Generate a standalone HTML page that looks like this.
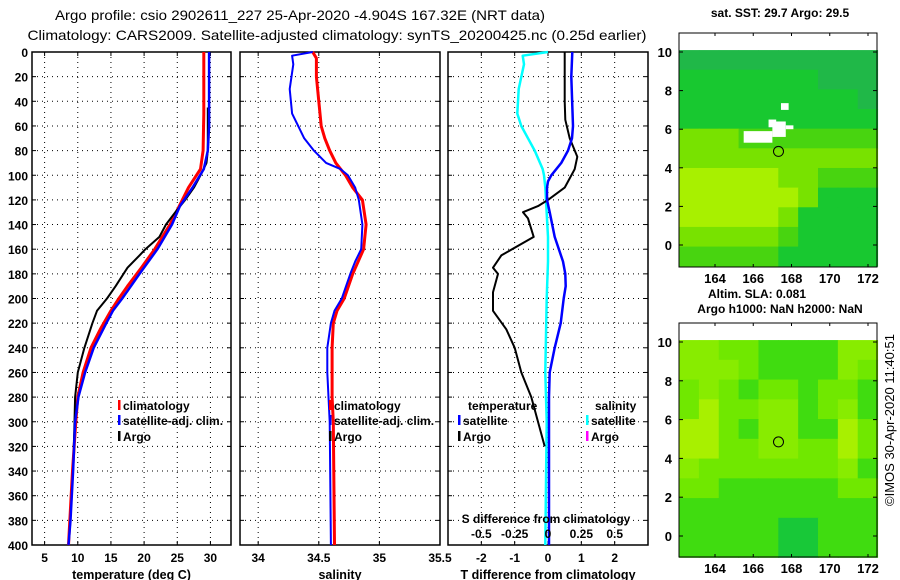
<!DOCTYPE html>
<html><head><meta charset="utf-8"><style>
html,body{margin:0;padding:0;background:#fff;}
svg{display:block;font-family:"Liberation Sans",sans-serif;}
.tk{font-size:12px;font-weight:bold;fill:#000;}
.ti{font-size:12.5px;font-weight:bold;fill:#000;}
</style></head><body>
<svg id="chart" width="900" height="580" viewBox="0 0 900 580" xmlns="http://www.w3.org/2000/svg">
<text x="300" y="20" text-anchor="middle" font-size="14" textLength="490" lengthAdjust="spacingAndGlyphs">Argo profile: csio 2902611_227 25-Apr-2020 -4.904S 167.32E (NRT data)</text>
<text x="337" y="40" text-anchor="middle" font-size="14" textLength="619" lengthAdjust="spacingAndGlyphs">Climatology: CARS2009. Satellite-adjusted climatology: synTS_20200425.nc (0.25d earlier)</text>
<g id="g"></g>
</svg>
<script>
// ---- data ----
const depthTicks = [0,20,40,60,80,100,120,140,160,180,200,220,240,260,280,300,320,340,360,380,400];
const tempTicks = [5,10,15,20,25,30];
const salTicks = [34,34.5,35,35.5];
const tdiffTicks = [-2,-1,0,1,2];
const sdiffTicks = [-0.5,-0.25,0,0.25,0.5];

const climTDepth = [0,50,80,95,110,125,140,160,175,190,200,210,225,240,260,280,300,340,400];
const climTemp   = [29.0,29.0,28.9,28.5,26.7,25.3,23.9,21.6,19.6,17.5,16.2,15.0,13.4,12.0,10.8,10.0,9.7,9.2,8.6];
const satTDepth  = [0,60,80,95,110,125,140,160,180,200,210,220,240,260,280,300,340,360,380,400];
const satTemp    = [29.8,29.8,29.6,29.0,27.3,25.4,24.2,22.0,19.3,16.7,15.3,14.3,12.4,11.1,10.1,9.6,9.3,9.1,8.9,8.6];
const argoTDepth = [45,60,80,90,100,110,120,130,140,150,160,165,175,190,200,210,220,240,260,280,300,320];
const argoTemp   = [29.6,29.6,29.6,29.4,28.5,27.5,26.2,24.7,23.3,22.3,20.2,19.3,17.5,15.7,14.4,12.9,12.2,11.0,10.0,9.6,9.5,9.4];

const climSDepth = [0,5,20,50,60,70,80,90,100,110,120,140,160,180,200,210,220,240,260,280,300,400];
const climSal    = [34.45,34.48,34.48,34.51,34.52,34.55,34.59,34.64,34.72,34.78,34.86,34.89,34.87,34.78,34.71,34.65,34.62,34.61,34.61,34.61,34.62,34.63];
const satSDepth  = [0,3,10,30,50,60,70,80,90,95,100,110,120,140,160,170,180,200,210,220,240,260,280,300,400];
const satSal     = [34.45,34.28,34.29,34.26,34.28,34.33,34.38,34.46,34.56,34.68,34.74,34.80,34.83,34.86,34.85,34.80,34.76,34.69,34.63,34.60,34.57,34.57,34.58,34.59,34.60];

const satTdDepth = [0,20,60,70,80,90,100,105,110,120,130,150,170,180,190,200,220,240,260,280,400];
const satTdiff   = [0.73,0.70,0.75,0.72,0.60,0.40,0.10,0.0,-0.03,-0.03,0.05,0.20,0.45,0.52,0.53,0.47,0.38,0.20,0.05,0.03,0.03];
const argoTdDepth= [0,20,40,55,70,85,95,110,120,125,130,135,150,165,175,180,195,210,225,240,260,280,300,320];
const argoTdiff  = [0.5,0.5,0.5,0.52,0.65,0.88,0.8,0.5,0.0,-0.3,-0.75,-0.6,-0.43,-1.4,-1.65,-1.5,-1.65,-1.65,-1.25,-1.0,-0.8,-0.5,-0.3,-0.1];
const satSdDepth = [0,3,10,30,50,60,70,80,95,100,110,150,170,200,260,300,400];
const satSdiff   = [0,-0.19,-0.18,-0.22,-0.23,-0.2,-0.15,-0.1,-0.04,-0.03,-0.02,0,0,-0.01,-0.02,-0.01,-0.02];

const latTicks = [0,2,4,6,8,10];
const lonTicks = [164,166,168,170,172];
const sstGrid = ["0000000000","1111111000","1111111110","1111111111","3332222222","3333333333","4444433222","4444443111","4444431111","3333321111","2222211111"];
const slaGrid = ["3322111133","3332111132","2321221221","2422331231","4421331142","4422332242","3222222231","2211111122","1111111111","1111100111","1111100111"];
const sstPal = ["#20b848","#18c830","#48d410","#78e200","#a8f000"];
const slaPal = ["#18c838","#40dc10","#70e800","#88ec00","#a8f000"];
const argoLon = 167.32, argoLat = 4.85;

// ---- helpers ----
const NS="http://www.w3.org/2000/svg";
const root=document.getElementById('g');
function mk(tag,attrs,parent){const e=document.createElementNS(NS,tag);for(const k in attrs)e.setAttribute(k,attrs[k]);(parent||root).appendChild(e);return e;}
const Y0=52,Y1=545;
const yD=d=>Y0+(d/400)*(Y1-Y0);
function lin(d0,d1,r0,r1){return v=>r0+(v-d0)/(d1-d0)*(r1-r0);}

const panels=[
 {x0:32,x1:231,sx:lin(3.1,33.1,32,231),ticks:tempTicks,title:'temperature (deg C)',name:'temperature-panel'},
 {x0:240,x1:440,sx:lin(33.85,35.5,240,440),ticks:salTicks,title:'salinity',name:'salinity-panel'},
 {x0:448,x1:648,sx:lin(-3,3,448,648),ticks:tdiffTicks,title:'T difference from climatology',name:'difference-panel'}
];
panels.forEach((p,i)=>{
  const g=mk('g',{});
  
  
  depthTicks.forEach(d=>{
    if(d>0&&d<400){const l=mk('line',{x1:p.x0,x2:p.x1,y1:yD(d),y2:yD(d),stroke:'#000','stroke-width':1,'stroke-dasharray':'1 4'},g);
      }
    mk('line',{x1:p.x0,x2:p.x0+4,y1:yD(d),y2:yD(d),stroke:'#000'},g);
    mk('line',{x1:p.x1-4,x2:p.x1,y1:yD(d),y2:yD(d),stroke:'#000'},g);
    if(i===0){const t=mk('text',{x:28,y:yD(d)+5,'text-anchor':'end',class:'tk'},g);t.textContent=d;
      }
  });
  p.ticks.forEach(v=>{
    const x=p.sx(v);
    if(x>p.x0+1&&x<p.x1-1){const l=mk('line',{x1:x,x2:x,y1:Y0,y2:Y1,stroke:'#000','stroke-dasharray':'1 4'},g);
      
      mk('line',{x1:x,x2:x,y1:Y0,y2:Y0+4,stroke:'#000'},g);mk('line',{x1:x,x2:x,y1:Y1-4,y2:Y1,stroke:'#000'},g);}
    const t=mk('text',{x:x,y:562,'text-anchor':'middle',class:'tk'},g);t.textContent=v;
    
  });
  const r=mk('rect',{x:p.x0,y:Y0,width:p.x1-p.x0,height:Y1-Y0,fill:'none',stroke:'#000','stroke-width':1.5},g);
  
  const tt=mk('text',{x:(p.x0+p.x1)/2,y:579,'text-anchor':'middle',class:'ti'},g);tt.textContent=p.title;
  
});
function series(p,depths,vals,color,w,name){
  const pts=depths.map((d,k)=>p.sx(vals[k]).toFixed(1)+','+yD(d).toFixed(1)).join(' ');
  const pl=mk('polyline',{points:pts,fill:'none',stroke:color,'stroke-width':w,'stroke-linejoin':'round'});
  
  
}
const P=panels;
series(P[0],climTDepth,climTemp,'#ff0000',3,'climatology-temperature-line');
series(P[0],argoTDepth,argoTemp,'#000000',2,'argo-temperature-line');
series(P[0],satTDepth,satTemp,'#0000ff',2.5,'satellite-temperature-line');
series(P[1],climSDepth,climSal,'#ff0000',3,'climatology-salinity-line');
series(P[1],satSDepth,satSal,'#0000ff',2,'satellite-salinity-line');
const sdx=lin(-0.75,0.75,448,648);
const P3s={sx:sdx};
series(P3s,satSdDepth,satSdiff,'#00ffff',2.5,'satellite-salinity-diff-line');
series(P[2],argoTdDepth,argoTdiff,'#000000',2,'argo-temperature-diff-line');
series(P[2],satTdDepth,satTdiff,'#0000ff',2.5,'satellite-temperature-diff-line');
// S diff axis
const sg=mk('g',{});


let st=mk('text',{x:546,y:523,'text-anchor':'middle',class:'tk'},sg);st.textContent='S difference from climatology';
sdiffTicks.forEach(v=>{const t=mk('text',{x:sdx(v),y:538,'text-anchor':'middle',class:'tk'},sg);t.textContent=v;
  });
// legends
function legend(x,y,color,label,name){
  const g=mk('g',{});
  if(color)mk('rect',{x:x,y:y-10,width:2.5,height:10,fill:color},g);
  const t=mk('text',{x:x+5,y:y,class:'tk'},g);t.textContent=label;
}
legend(118,410,'#ff0000','climatology','legend-climatology');
legend(118,425,'#0000ff','satellite-adj. clim.','legend-satellite');
legend(118,441,'#000000','Argo','legend-argo');
legend(329,410,'#ff0000','climatology','legend-climatology-sal');
legend(329,425,'#0000ff','satellite-adj. clim.','legend-satellite-sal');
legend(329,441,'#000000','Argo','legend-argo-sal');
legend(463,410,null,'temperature','legend-temperature-header');
legend(458,425,'#0000ff','satellite','legend-t-satellite');
legend(458,441,'#000000','Argo','legend-t-argo');
legend(590,410,null,'salinity','legend-salinity-header');
legend(586,425,'#00ffff','satellite','legend-s-satellite');
legend(586,441,'#ff00ff','Argo','legend-s-argo');

// ---- maps ----
function map(top,bot,lat10y,lat0y,grid,pal,title,titleY,name){
  const g=mk('g',{});
  const lx=lin(164,172,715,868), ly=lin(0,10,lat0y,lat10y);
  const L=679,R=877;
  const lonMin=162.12,lonMax=172.5,latMax=10.1,latMin=-1.1;
  const nr=grid.length,nc=grid[0].length;
  const cw=(lonMax-lonMin)/nc, ch=(latMax-latMin)/nr;
  for(let r=0;r<nr;r++)for(let c=0;c<nc;c++){
    const x0=lx(lonMin+c*cw),x1=lx(lonMin+(c+1)*cw),y0=ly(latMax-r*ch),y1=ly(latMax-(r+1)*ch);
    const cell=mk('rect',{x:x0,y:y0,width:x1-x0+0.5,height:y1-y0+0.5,fill:pal[+grid[r][c]]},g);
    
  }
  mk('circle',{cx:lx(argoLon),cy:ly(argoLat),r:5,fill:'none',stroke:'#000','stroke-width':1},g);
  mk('rect',{x:L,y:top,width:R-L,height:bot-top,fill:'none',stroke:'#000'},g);
  latTicks.forEach(v=>{const y=ly(v);mk('line',{x1:L,x2:L+4,y1:y,y2:y,stroke:'#000'},g);mk('line',{x1:R-4,x2:R,y1:y,y2:y,stroke:'#000'},g);
    const t=mk('text',{x:672,y:y+5,'text-anchor':'end',class:'tk',style:'font-size:13px'},g);t.textContent=v;
    });
  lonTicks.forEach(v=>{const x=lx(v);mk('line',{x1:x,x2:x,y1:top,y2:top+3,stroke:'#000'},g);mk('line',{x1:x,x2:x,y1:bot-3,y2:bot,stroke:'#000'},g);
    const t=mk('text',{x:x,y:bot+16,'text-anchor':'middle',class:'tk',style:'font-size:13px'},g);t.textContent=v;
    });
  const tt=mk('text',{x:780,y:titleY,'text-anchor':'middle',class:'tk'},g);tt.textContent=title;
  return {g,lx,ly};
}
const m1=map(33,267,52,245,sstGrid,sstPal,'sat. SST: 29.7 Argo: 29.5',17,'sst-map');
[[165.5,5.3,1.5,0.6],[167.0,5.6,0.7,0.8],[166.8,6.1,0.4,0.4],[167.7,6.0,0.4,0.2],[167.45,7.0,0.4,0.35]].forEach(b=>{
  const w=mk('rect',{x:m1.lx(b[0]),y:m1.ly(b[1]+b[3]),width:m1.lx(b[0]+b[2])-m1.lx(b[0]),height:m1.ly(b[1])-m1.ly(b[1]+b[3]),fill:'#fff'},m1.g);
  
});
const m2=map(323,557,342,536,slaGrid,slaPal,'Argo h1000: NaN h2000: NaN',313,'sla-map');
const sl=mk('text',{x:757,y:298,'text-anchor':'middle',class:'tk'});sl.textContent='Altim. SLA: 0.081';

const cp=mk('text',{x:0,y:0,'text-anchor':'middle','font-size':'13',transform:'translate(894,420) rotate(-90)'});cp.textContent='©IMOS 30-Apr-2020 11:40:51';

</script>
</body></html>
